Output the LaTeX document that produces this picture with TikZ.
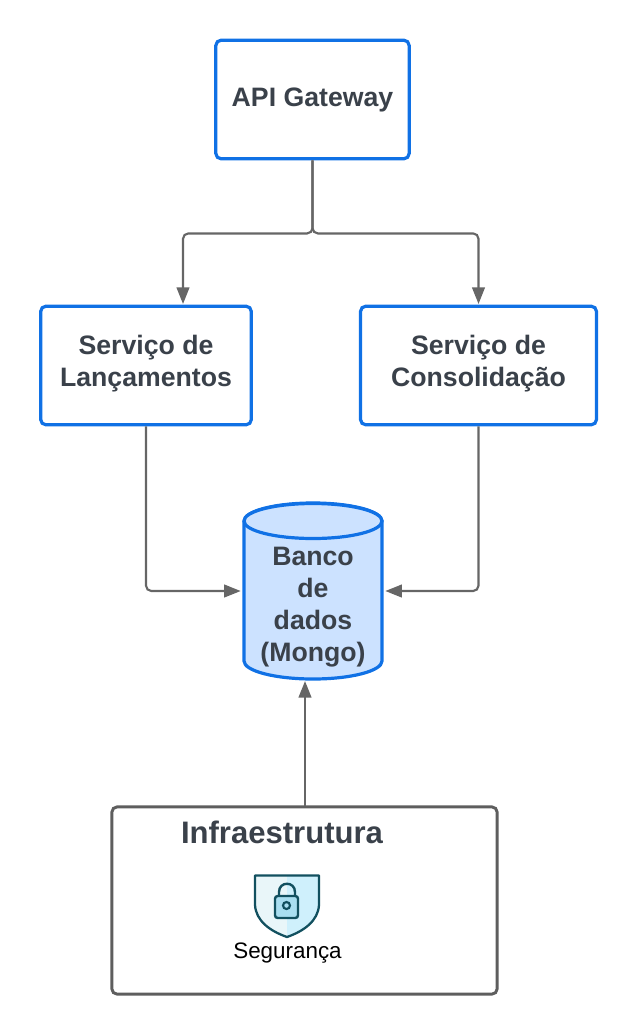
\documentclass[tikz,border=0pt]{standalone}
\usepackage{fontspec}
\setmainfont{Liberation Sans}
\usetikzlibrary{arrows.meta}
\definecolor{boxblue}{HTML}{1071E5}
\definecolor{dbfill}{HTML}{CCE2FF}
\definecolor{textgray}{HTML}{3A414A}
\definecolor{linegray}{HTML}{666666}
\definecolor{boxgray}{HTML}{5E5E5E}
\definecolor{shieldline}{HTML}{12505F}
\definecolor{shieldleft}{HTML}{E9F6F9}
\definecolor{shieldright}{HTML}{CFF0FC}
\definecolor{lockfill}{HTML}{A9DEF0}
\tikzstyle{service} = [
  draw=boxblue,
  line width=2.4pt,
  rectangle,
  rounded corners=4pt,
  inner sep=0pt,
  align=center,
  text=textgray,
  font=\fontsize{20}{24}\selectfont\bfseries,
]
\tikzstyle{dbshape} = [
  draw=boxblue,
  fill=dbfill,
  line width=2.4pt,
]
\tikzstyle{database} = [
  rectangle,
  inner sep=0pt,
  minimum width=105pt,
  minimum height=132pt,
]
\tikzstyle{dbtext} = [
  align=center,
  text=textgray,
  font=\fontsize{20}{24}\selectfont\bfseries,
]
\tikzstyle{infra} = [
  draw=boxgray,
  line width=2.2pt,
  rectangle,
  rounded corners=4pt,
  inner sep=0pt,
  minimum width=289pt,
  minimum height=140.5pt,
]
\tikzstyle{link} = [
  draw=linegray,
  line width=1.6pt,
  rounded corners=4pt,
  -{Triangle[length=12.5pt,width=9.5pt]},
]
\begin{document}
\begin{tikzpicture}[
    x=0.75pt,
    y=-0.75pt,
  ]
  \useasboundingbox (0,0) rectangle (637,1035);
  \node[
    service,
    minimum width=145pt,
    minimum height=89pt,
  ](gateway) at (312.5,99.5){API Gateway};
  \node[
    service,
    minimum width=158pt,
    minimum height=89pt,
    text depth=6.5pt,
  ](lancamentos) at (146,365.5){Serviço de\\Lançamentos};
  \node[
    service,
    minimum width=177pt,
    minimum height=89pt,
    text depth=6.5pt,
  ](consolidacao) at (478.5,365.5){Serviço de\\Consolidação};
  % cylinder
  \node[database](banco) at (313,591){};
  \draw[dbshape] (244,521) -- (244,661)
    arc[start angle=180,end angle=0,x radius=69,y radius=18]
    -- (382,521)
    arc[start angle=0,end angle=-180,x radius=69,y radius=18];
  \draw[dbshape] (313,521) ellipse[x radius=69,y radius=17.5];
  \node[dbtext](bancotext) at (313,607){Banco\\de\\dados\\(Mongo)};
  \node[infra](infra) at (304.5,900.5){};
  \node[
    text=textgray,
    font=\fontsize{23.3}{26}\selectfont\bfseries,
  ](infratitle) at (282,832){Infraestrutura};
  \node[
    text=black,
    font=\fontsize{16.8}{20}\selectfont,
  ](seguranca) at (287.5,953){Segurança};
  % shield icon
  \fill[shieldleft] (287,875.5) -- (255,875.5) -- (255,905)
    .. controls (256,921) and (270,931) .. (287,937) -- cycle;
  \fill[shieldright] (287,875.5) -- (319,875.5) -- (319,905)
    .. controls (318,921) and (304,931) .. (287,937) -- cycle;
  \draw[shieldline,line width=1.7pt,line join=round] (255,875.5) -- (319,875.5) -- (319,905)
    .. controls (318,921) and (304,931) .. (287,937)
    .. controls (270,931) and (256,921) .. (255,905) -- cycle;
  \draw[shieldline,line width=1.8pt] (279,897) -- (279,892)
    .. controls (279,881) and (295,881) .. (295,892) -- (295,897);
  \draw[shieldline,fill=lockfill,line width=1.8pt,rounded corners=2pt] (275,896) rectangle (298,918);
  \draw[shieldline,line width=1.6pt] (286.5,905.5) circle (3.5);
  % connectors
  \coordinate (lancamentostop) at (183,304);
  \coordinate (consolidacaotop) at (478.5,304);
  \coordinate (infratop) at (305,806);
  \coordinate (bancobase) at (305,681);
  \draw[link] (gateway.south) -- ++(0,73) -| (lancamentostop);
  \draw[link] (gateway.south) -- ++(0,73) -| (consolidacaotop);
  \draw[link] (lancamentos.south) |- ([xshift=-1.5pt]banco.west);
  \draw[link] (consolidacao.south) |- ([xshift=1.5pt]banco.east);
  \draw[link] (infratop) -- (bancobase);
\end{tikzpicture}
\end{document}
